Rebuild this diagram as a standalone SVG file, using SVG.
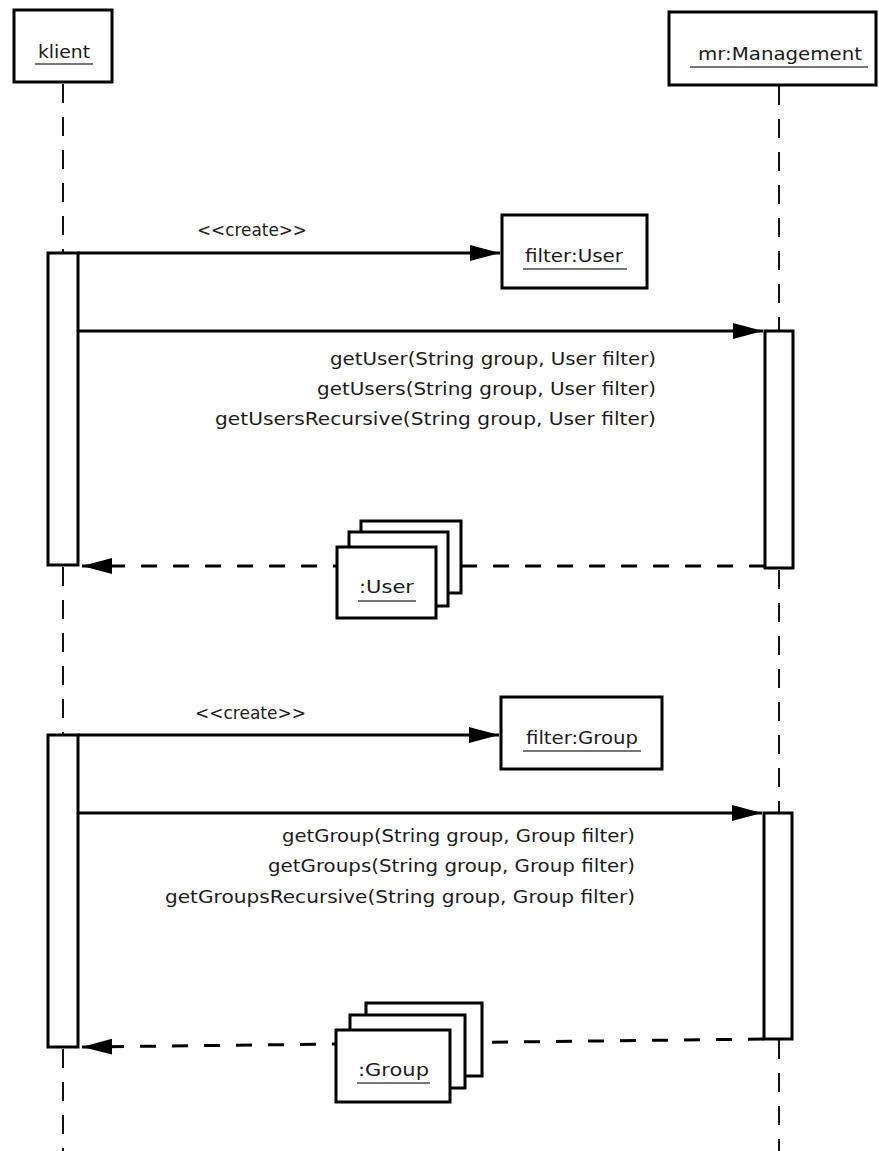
<svg xmlns="http://www.w3.org/2000/svg" width="879" height="1151" viewBox="0 0 879 1151">
<style>
.box{fill:#fff;stroke:#000;stroke-width:3}
.life{stroke:#111;stroke-width:2;stroke-dasharray:19 14;fill:none}
.msg{stroke:#000;stroke-width:3;fill:none}
.ret{stroke:#000;stroke-width:3;fill:none;stroke-dasharray:16 16}
.ul{stroke:#777;stroke-width:2}
text{font-family:"DejaVu Sans","Liberation Sans",sans-serif;font-size:18.5px;fill:#1a1a1a}
</style>
<defs>
<marker id="ah" markerUnits="userSpaceOnUse" markerWidth="32" markerHeight="18" refX="30" refY="8" orient="auto">
<path d="M0,0 L30,8 L0,16 Z" fill="#000"/>
</marker>
</defs>
<rect width="879" height="1151" fill="#fff"/>

<g id="lifelines">
<line class="life" x1="63" y1="84" x2="63" y2="253"/>
<line class="life" x1="63" y1="567" x2="63" y2="735"/>
<line class="life" x1="63" y1="1049" x2="63" y2="1151"/>
<line class="life" x1="779" y1="86" x2="779" y2="331"/>
<line class="life" x1="779" y1="570" x2="779" y2="813"/>
<line class="life" x1="779" y1="1040" x2="779" y2="1151"/>
</g>

<g id="klient">
<rect class="box" x="14" y="10" width="98" height="72"/>
<text x="38" y="58" textLength="52" lengthAdjust="spacingAndGlyphs">klient</text>
<line class="ul" x1="35" y1="64" x2="93" y2="64"/>
</g>

<g id="management">
<rect class="box" x="669" y="12" width="207" height="73"/>
<text x="698" y="60" textLength="164" lengthAdjust="spacingAndGlyphs">mr:Management</text>
<line class="ul" x1="690" y1="67" x2="868" y2="67"/>
</g>

<g id="klient-activations">
<rect class="box" x="48" y="253" width="30" height="312"/>
<rect class="box" x="48" y="735" width="30" height="312"/>
</g>

<g id="management-activations">
<rect class="box" x="765" y="331" width="28" height="237"/>
<rect class="box" x="764" y="813" width="28" height="226"/>
</g>

<g id="filter-user">
<rect class="box" x="502" y="215" width="145" height="73"/>
<text x="525" y="262" textLength="98" lengthAdjust="spacingAndGlyphs">filter:User</text>
<line class="ul" x1="523" y1="269" x2="627" y2="269"/>
</g>

<g id="filter-group">
<rect class="box" x="501" y="697" width="161" height="72"/>
<text x="526" y="744" textLength="112" lengthAdjust="spacingAndGlyphs">filter:Group</text>
<line class="ul" x1="523" y1="751" x2="641" y2="751"/>
</g>

<g id="connectors">
<line class="msg" x1="78" y1="253" x2="500" y2="253" marker-end="url(#ah)"/>
<line class="msg" x1="78" y1="331" x2="763" y2="331" marker-end="url(#ah)"/>
<line class="ret" x1="765" y1="566" x2="82" y2="566" marker-end="url(#ah)"/>
<line class="msg" x1="78" y1="735" x2="499" y2="735" marker-end="url(#ah)"/>
<line class="msg" x1="78" y1="813" x2="762" y2="813" marker-end="url(#ah)"/>
<line class="ret" x1="764" y1="1039" x2="82" y2="1047" marker-end="url(#ah)"/>
</g>

<g id="labels">
<text x="197" y="236" textLength="110" lengthAdjust="spacingAndGlyphs">&lt;&lt;create&gt;&gt;</text>
<text x="330" y="365" textLength="326" lengthAdjust="spacingAndGlyphs">getUser(String group, User filter)</text>
<text x="317" y="395" textLength="339" lengthAdjust="spacingAndGlyphs">getUsers(String group, User filter)</text>
<text x="215" y="425" textLength="441" lengthAdjust="spacingAndGlyphs">getUsersRecursive(String group, User filter)</text>
<text x="195" y="719" textLength="111" lengthAdjust="spacingAndGlyphs">&lt;&lt;create&gt;&gt;</text>
<text x="282" y="842" textLength="353" lengthAdjust="spacingAndGlyphs">getGroup(String group, Group filter)</text>
<text x="268" y="872" textLength="367" lengthAdjust="spacingAndGlyphs">getGroups(String group, Group filter)</text>
<text x="165" y="903" textLength="470" lengthAdjust="spacingAndGlyphs">getGroupsRecursive(String group, Group filter)</text>
</g>

<g id="user-result">
<rect class="box" x="361" y="521" width="100" height="72"/>
<rect class="box" x="349" y="532" width="99" height="74"/>
<rect class="box" x="337" y="547" width="99" height="71"/>
<text x="359" y="593" textLength="55" lengthAdjust="spacingAndGlyphs">:User</text>
<line class="ul" x1="358" y1="601" x2="416" y2="601"/>
</g>

<g id="group-result">
<rect class="box" x="366" y="1003" width="116" height="73"/>
<rect class="box" x="350" y="1015" width="115" height="73"/>
<rect class="box" x="336" y="1030" width="114" height="72"/>
<text x="358" y="1076" textLength="71" lengthAdjust="spacingAndGlyphs">:Group</text>
<line class="ul" x1="357" y1="1083" x2="430" y2="1083"/>
</g>
</svg>
